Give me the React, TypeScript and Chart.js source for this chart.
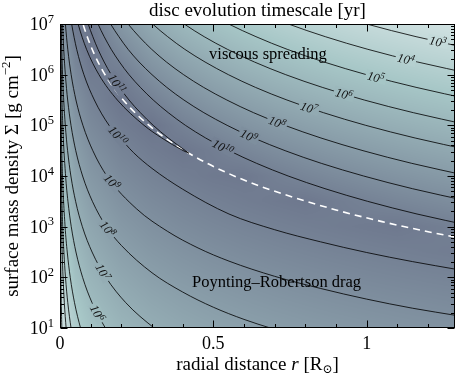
import React, { useEffect, useRef } from "react";
import { Chart, registerables } from "chart.js";

Chart.register(...registerables);

type Pt = [number, number]; // [r in R_sun, log10 Sigma]

// ---------- axes ----------
const rMin = 0;
const rMax = 1.288;
const sigmaMin = 1e1;
const sigmaMax = 1e7;
const xMajor = [0, 0.5, 1];
const xMajorLabels = ["0", "0.5", "1"];
const xMinor = [0.1, 0.2, 0.3, 0.4, 0.6, 0.7, 0.8, 0.9, 1.1, 1.2];
const yMajorExp = [1, 2, 3, 4, 5, 6, 7];
const yMinorMult = [2, 3, 4, 5, 6, 7, 8, 9];

// ---------- viscous-spreading contours (t = 10^n yr) ----------
const visc3: Pt[] = [[0.861, 7.25], [1.0, 7.0], [1.161, 6.75], [1.348, 6.5]];
const visc4: Pt[] = [[0.642, 7.25], [0.745, 7.0], [0.865, 6.75], [1.004, 6.5], [1.166, 6.25], [1.354, 6.0]];
const visc5: Pt[] = [[0.474, 7.25], [0.55, 7.0], [0.639, 6.75], [0.741, 6.5], [0.861, 6.25], [0.999, 6.0], [1.161, 5.75], [1.347, 5.5]];
const visc6: Pt[] = [[0.349, 7.25], [0.405, 7.0], [0.47, 6.75], [0.546, 6.5], [0.634, 6.25], [0.736, 6.0], [0.855, 5.75], [0.992, 5.5], [1.152, 5.25], [1.337, 5.0]];
const visc7: Pt[] = [[0.26, 7.25], [0.302, 7.0], [0.351, 6.75], [0.407, 6.5], [0.473, 6.25], [0.549, 6.0], [0.637, 5.75], [0.74, 5.5], [0.859, 5.25], [0.997, 5.0], [1.158, 4.75], [1.344, 4.5]];
const visc8: Pt[] = [[0.191, 7.25], [0.222, 7.0], [0.258, 6.75], [0.299, 6.5], [0.347, 6.25], [0.403, 6.0], [0.468, 5.75], [0.544, 5.5], [0.631, 5.25], [0.733, 5.0], [0.851, 4.75], [0.988, 4.5], [1.147, 4.25], [1.332, 4.0]];
const visc9: Pt[] = [[0.142, 7.25], [0.165, 7.0], [0.192, 6.75], [0.222, 6.5], [0.258, 6.25], [0.3, 6.0], [0.348, 5.75], [0.404, 5.5], [0.469, 5.25], [0.545, 5.0], [0.632, 4.75], [0.734, 4.5], [0.852, 4.25], [0.99, 4.0], [1.149, 3.75], [1.334, 3.5]];
const visc10: Pt[] = [[0.107, 7.25], [0.124, 7.0], [0.144, 6.75], [0.167, 6.5], [0.194, 6.25], [0.225, 6.0], [0.262, 5.75], [0.304, 5.5], [0.353, 5.25], [0.409, 5.0], [0.475, 4.75], [0.552, 4.5], [0.641, 4.25], [0.744, 4.0], [0.864, 3.75], [1.003, 3.5], [1.164, 3.25], [1.352, 3.0]];
const visc11: Pt[] = [[0.079, 7.25], [0.092, 7.0], [0.107, 6.75], [0.124, 6.5], [0.144, 6.25], [0.167, 6.0], [0.194, 5.75], [0.225, 5.5], [0.262, 5.25], [0.304, 5.0], [0.353, 4.75], [0.409, 4.5], [0.42, 4.45]];

// ---------- Poynting-Robertson drag contours ----------
const pr2: Pt[] = [[0.00037, 5.0], [0.00074, 4.0], [0.0015, 3.0], [0.003, 2.0], [0.0042, 1.5], [0.006, 1.0], [0.0069, 0.8]];
const pr3: Pt[] = [[0.0003, 7.0], [0.00061, 6.0], [0.00122, 5.0], [0.00246, 4.0], [0.00494, 3.0], [0.007, 2.5], [0.00995, 2.0], [0.0141, 1.5], [0.02, 1.0], [0.023, 0.8]];
const pr4: Pt[] = [[0.00055, 7.0], [0.0011, 6.0], [0.0022, 5.0], [0.00444, 4.0], [0.0089, 3.0], [0.0127, 2.5], [0.0179, 2.0], [0.0254, 1.5], [0.036, 1.0], [0.0414, 0.8]];
const pr5: Pt[] = [[0.00102, 7.0], [0.00205, 6.0], [0.0041, 5.0], [0.0083, 4.0], [0.0166, 3.0], [0.0236, 2.5], [0.0334, 2.0], [0.0473, 1.5], [0.067, 1.0], [0.077, 0.8]];
const pr6: Pt[] = [[0.00226, 7.0], [0.00453, 6.0], [0.0091, 5.0], [0.0183, 4.0], [0.0259, 3.5], [0.0367, 3.0], [0.052, 2.5], [0.0737, 2.0], [0.1044, 1.5], [0.148, 1.0], [0.17, 0.8]];
const pr7: Pt[] = [[0.0036, 7.2], [0.0041, 7.0], [0.0059, 6.5], [0.0084, 6.0], [0.0121, 5.5], [0.0173, 5.0], [0.0248, 4.5], [0.0355, 4.0], [0.0509, 3.5], [0.0729, 3.0], [0.1045, 2.5], [0.1497, 2.0], [0.2144, 1.5], [0.307, 1.0], [0.354, 0.8]];
const pr8: Pt[] = [[0.0074, 7.2], [0.0085, 7.0], [0.0122, 6.5], [0.0175, 6.0], [0.025, 5.5], [0.0359, 5.0], [0.0514, 4.5], [0.0737, 4.0], [0.1056, 3.5], [0.151, 3.0], [0.2, 2.63], [0.3, 2.09], [0.4, 1.71], [0.5, 1.41], [0.6, 1.17], [0.691, 0.99], [0.8, 0.8]];
const pr9: Pt[] = [[0.0155, 7.2], [0.0177, 7.0], [0.0254, 6.5], [0.0364, 6.0], [0.052, 5.5], [0.0747, 5.0], [0.107, 4.5], [0.153, 4.0], [0.25, 3.35], [0.35, 2.91], [0.45, 2.58], [0.551, 2.32], [0.7, 2.02], [0.85, 1.78], [1.0, 1.57], [1.15, 1.39], [1.3, 1.24]];
const pr10: Pt[] = [[0.033, 7.2], [0.038, 7.0], [0.0545, 6.5], [0.078, 6.0], [0.112, 5.5], [0.16, 5.0], [0.189, 4.8], [0.24, 4.46], [0.3, 4.15], [0.4, 3.74], [0.551, 3.25], [0.7, 2.94], [0.85, 2.7], [1.0, 2.49], [1.15, 2.31], [1.3, 2.15]];
const pr11: Pt[] = [[0.0487, 7.25], [0.059, 7.0], [0.0866, 6.5], [0.127, 6.0], [0.187, 5.5], [0.274, 5.0], [0.332, 4.75], [0.402, 4.5], [0.42, 4.45]];

// boundary where both timescales are equal (dashed)
const equalTimescale: Pt[] = [[0.065, 7.21], [0.075, 7.0], [0.09, 6.73], [0.11, 6.43], [0.14, 6.07], [0.18, 5.7], [0.23, 5.34], [0.3, 4.95], [0.38, 4.6], [0.48, 4.25], [0.6, 3.92], [0.75, 3.6], [0.9, 3.33], [1.05, 3.1], [1.2, 2.9], [1.3, 2.78]];

// contour labels: exponent and radius where the label sits
const viscLabelExp = [3, 4, 5, 6, 7, 8, 9, 10, 11];
const viscLabelR = [1.232, 1.128, 1.03, 0.926, 0.812, 0.708, 0.616, 0.531, 0.186];
const prLabelExp = [6, 7, 8, 9, 10];
const prLabelR = [0.122, 0.14, 0.156, 0.17, 0.189];

// ---------- background field: log10 t on a coarse grid ----------
const shadeR = [0, 0.05, 0.1, 0.2, 0.3, 0.4, 0.5, 0.6, 0.7, 0.8, 0.9, 1.0, 1.1, 1.2, 1.3];
const shadeL = [7, 6.5, 6, 5.5, 5, 4.5, 4, 3.5, 3, 2.5, 2, 1.5, 1];
const shadeLogT = [
  [8.3, 10.54, 10.73, 8.41, 7.06, 6.09, 5.35, 4.74, 4.22, 3.78, 3.38, 3.03, 2.71, 2.42, 2.15],
  [7.79, 10.02, 10.98, 9.41, 8.06, 7.09, 6.35, 5.74, 5.22, 4.78, 4.38, 4.03, 3.71, 3.42, 3.15],
  [7.27, 9.5, 10.47, 10.41, 9.06, 8.09, 7.35, 6.74, 6.22, 5.78, 5.38, 5.03, 4.71, 4.42, 4.15],
  [6.75, 8.99, 9.95, 10.91, 10.06, 9.09, 8.35, 7.74, 7.22, 6.78, 6.38, 6.03, 5.71, 5.42, 5.15],
  [6.24, 8.47, 9.44, 10.4, 10.96, 10.09, 9.35, 8.74, 8.22, 7.78, 7.38, 7.03, 6.71, 6.42, 6.15],
  [5.72, 7.96, 8.92, 9.88, 10.44, 10.84, 10.35, 9.74, 9.22, 8.78, 8.38, 8.03, 7.71, 7.42, 7.15],
  [5.21, 7.44, 8.4, 9.37, 9.93, 10.33, 10.64, 10.74, 10.22, 9.78, 9.38, 9.03, 8.71, 8.42, 8.15],
  [4.69, 6.93, 7.89, 8.85, 9.41, 9.81, 10.12, 10.37, 10.59, 10.77, 10.38, 10.03, 9.71, 9.42, 9.15],
  [4.18, 6.41, 7.37, 8.34, 8.9, 9.3, 9.61, 9.86, 10.07, 10.26, 10.42, 10.57, 10.7, 10.42, 10.15],
  [3.66, 5.9, 6.86, 7.82, 8.38, 8.78, 9.09, 9.34, 9.56, 9.74, 9.91, 10.05, 10.18, 10.31, 10.42],
  [3.15, 5.38, 6.34, 7.3, 7.87, 8.27, 8.58, 8.83, 9.04, 9.23, 9.39, 9.54, 9.67, 9.79, 9.9],
  [2.63, 4.86, 5.83, 6.79, 7.35, 7.75, 8.06, 8.31, 8.53, 8.71, 8.88, 9.02, 9.15, 9.27, 9.39],
  [2.12, 4.35, 5.31, 6.27, 6.84, 7.24, 7.55, 7.8, 8.01, 8.2, 8.36, 8.51, 8.64, 8.76, 8.87],
];
// bone-like colour map (log t -> rgb)
const cmapStops: [number, [number, number, number]][] = [
  [-0.74, [255, 255, 255]],
  [4.92, [167, 199, 199]],
  [13.41, [84, 84, 116]],
];

const FONT = "'Liberation Serif', 'DejaVu Serif', serif";

type Part = { t: string; size: number; italic?: boolean; dy?: number };

function fontOf(p: Part) {
  return `${p.italic ? "italic " : ""}${p.size}px ${FONT}`;
}
function partsWidth(ctx: CanvasRenderingContext2D, parts: Part[]) {
  let w = 0;
  for (const p of parts) {
    ctx.font = fontOf(p);
    w += ctx.measureText(p.t).width;
  }
  return w;
}
function drawParts(ctx: CanvasRenderingContext2D, parts: Part[], x: number, y: number, align: "left" | "center" | "right") {
  const w = partsWidth(ctx, parts);
  let cx = align === "center" ? x - w / 2 : align === "right" ? x - w : x;
  ctx.textAlign = "left";
  ctx.textBaseline = "alphabetic";
  for (const p of parts) {
    ctx.font = fontOf(p);
    ctx.fillText(p.t, cx, y + (p.dy || 0));
    cx += ctx.measureText(p.t).width;
  }
}

function sampleLogT(r: number, l: number): number {
  const nc = shadeR.length;
  let i = 0;
  if (r >= shadeR[nc - 1]) i = nc - 2;
  else if (r > shadeR[0]) { while (shadeR[i + 1] < r) i++; }
  const tx = Math.min(1, Math.max(0, (r - shadeR[i]) / (shadeR[i + 1] - shadeR[i])));
  const nr = shadeL.length;
  let j = 0;
  if (l <= shadeL[nr - 1]) j = nr - 2;
  else if (l < shadeL[0]) { while (shadeL[j + 1] > l) j++; }
  const ty = Math.min(1, Math.max(0, (shadeL[j] - l) / (shadeL[j] - shadeL[j + 1])));
  const a = shadeLogT[j][i], b = shadeLogT[j][i + 1];
  const c = shadeLogT[j + 1][i], d = shadeLogT[j + 1][i + 1];
  const top = a + (b - a) * tx;
  const bot = c + (d - c) * tx;
  return top + (bot - top) * ty;
}

function cmap(v: number): [number, number, number] {
  const s = cmapStops;
  if (v <= s[0][0]) return s[0][1];
  for (let k = 0; k < s.length - 1; k++) {
    if (v <= s[k + 1][0]) {
      const t = (v - s[k][0]) / (s[k + 1][0] - s[k][0]);
      const c0 = s[k][1], c1 = s[k + 1][1];
      return [c0[0] + (c1[0] - c0[0]) * t, c0[1] + (c1[1] - c0[1]) * t, c0[2] + (c1[2] - c0[2]) * t];
    }
  }
  return s[s.length - 1][1];
}

const shadePlugin = {
  id: "shade",
  beforeDatasetsDraw(chart: any) {
    const { ctx, chartArea: a, scales } = chart;
    const w = Math.round(a.right - a.left);
    const h = Math.round(a.bottom - a.top);
    const off = document.createElement("canvas");
    off.width = w;
    off.height = h;
    const octx = off.getContext("2d")!;
    const img = octx.createImageData(w, h);
    const rs: number[] = [];
    const ls: number[] = [];
    for (let i = 0; i < w; i++) rs.push(scales.x.getValueForPixel(a.left + i + 0.5));
    for (let j = 0; j < h; j++) ls.push(Math.log10(scales.y.getValueForPixel(a.top + j + 0.5)));
    let k = 0;
    for (let j = 0; j < h; j++) {
      for (let i = 0; i < w; i++) {
        const c = cmap(sampleLogT(rs[i], ls[j]));
        img.data[k++] = c[0];
        img.data[k++] = c[1];
        img.data[k++] = c[2];
        img.data[k++] = 255;
      }
    }
    octx.putImageData(img, 0, 0);
    ctx.drawImage(off, a.left, a.top);
  },
};

function drawContourLabel(chart: any, pts: Pt[], r: number, exp: number) {
  const { ctx, scales } = chart;
  const xs = scales.x, ys = scales.y;
  let k = 0;
  while (k < pts.length - 2 && pts[k + 1][0] < r) k++;
  const x0 = xs.getPixelForValue(pts[k][0]), y0 = ys.getPixelForValue(Math.pow(10, pts[k][1]));
  const x1 = xs.getPixelForValue(pts[k + 1][0]), y1 = ys.getPixelForValue(Math.pow(10, pts[k + 1][1]));
  const t = (r - pts[k][0]) / (pts[k + 1][0] - pts[k][0]);
  const px = xs.getPixelForValue(r);
  const py = y0 + (y1 - y0) * t;
  let ang = Math.atan2(y1 - y0, x1 - x0);
  if (ang > Math.PI / 2) ang -= Math.PI;
  if (ang < -Math.PI / 2) ang += Math.PI;
  const lg = Math.log10(ys.getValueForPixel(py));
  const bg = cmap(sampleLogT(r, lg));
  const parts: Part[] = [
    { t: "10", size: 12.5, italic: true },
    { t: String(exp), size: 9, italic: true, dy: -4.5 },
  ];
  const w = partsWidth(ctx, parts);
  ctx.save();
  ctx.translate(px, py);
  ctx.rotate(ang);
  ctx.fillStyle = `rgb(${bg[0]},${bg[1]},${bg[2]})`;
  ctx.fillRect(-w / 2 - 2, -5.5, w + 4, 11);
  ctx.fillStyle = "#111";
  drawParts(ctx, parts, 0, 4.5, "center");
  ctx.restore();
}

const viscLines = [visc3, visc4, visc5, visc6, visc7, visc8, visc9, visc10, visc11];
const prLines = [pr2, pr3, pr4, pr5, pr6, pr7, pr8, pr9, pr10, pr11];
const prLabelLines = [pr6, pr7, pr8, pr9, pr10];

const labelPlugin = {
  id: "contourLabels",
  afterDatasetsDraw(chart: any) {
    viscLabelExp.forEach((e, i) => drawContourLabel(chart, viscLines[i], viscLabelR[i], e));
    prLabelExp.forEach((e, i) => drawContourLabel(chart, prLabelLines[i], prLabelR[i], e));
  },
};

const framePlugin = {
  id: "frame",
  afterDraw(chart: any) {
    const { ctx, chartArea: a, scales } = chart;
    const xs = scales.x, ys = scales.y;
    const L = Math.round(a.left) + 0.5, R = Math.round(a.right) - 0.5;
    const T = Math.round(a.top) + 0.5, B = Math.round(a.bottom) - 0.5;
    ctx.save();
    ctx.strokeStyle = "#000";
    ctx.lineWidth = 1;
    ctx.strokeRect(L, T, R - L, B - T);
    ctx.beginPath();
    const xt = (v: number, len: number) => {
      const p = Math.round(xs.getPixelForValue(v)) + 0.5;
      ctx.moveTo(p, B); ctx.lineTo(p, B - len);
      ctx.moveTo(p, T); ctx.lineTo(p, T + len);
    };
    const yt = (v: number, len: number) => {
      const p = Math.round(ys.getPixelForValue(v)) + 0.5;
      ctx.moveTo(L, p); ctx.lineTo(L + len, p);
      ctx.moveTo(R, p); ctx.lineTo(R - len, p);
    };
    xMajor.forEach((v) => xt(v, 7));
    xMinor.forEach((v) => xt(v, 3.5));
    yMajorExp.forEach((e) => yt(Math.pow(10, e), 7));
    for (let e = yMajorExp[0]; e < yMajorExp[yMajorExp.length - 1]; e++) {
      yMinorMult.forEach((m) => yt(m * Math.pow(10, e), 3.5));
    }
    ctx.stroke();

    ctx.fillStyle = "#000";
    // x tick labels
    xMajor.forEach((v, i) => {
      drawParts(ctx, [{ t: xMajorLabels[i], size: 18 }], xs.getPixelForValue(v), B + 21, "center");
    });
    // y tick labels
    yMajorExp.forEach((e) => {
      const p = ys.getPixelForValue(Math.pow(10, e));
      drawParts(ctx, [{ t: "10", size: 18 }, { t: String(e), size: 12.5, dy: -7.5 }], a.left - 6, p + 6, "right");
    });
    const cx = (a.left + a.right) / 2;
    const cy = (a.top + a.bottom) / 2;
    // title
    drawParts(ctx, [{ t: "disc evolution timescale [yr]", size: 19 }], cx, 16, "center");
    // x label
    drawParts(
      ctx,
      [
        { t: "radial distance ", size: 19 },
        { t: "r", size: 19, italic: true },
        { t: " [R", size: 19 },
        { t: "\u2299", size: 12, dy: 3 },
        { t: "]", size: 19 },
      ],
      cx, 370, "center"
    );
    // y label
    ctx.save();
    ctx.translate(17.5, cy);
    ctx.rotate(-Math.PI / 2);
    drawParts(
      ctx,
      [
        { t: "surface mass density \u03A3 [g cm", size: 19 },
        { t: "\u22122", size: 13, dy: -7.5 },
        { t: "]", size: 19 },
      ],
      0, 0, "center"
    );
    ctx.restore();
    // region annotations
    drawParts(ctx, [{ t: "viscous spreading", size: 16.5 }], xs.getPixelForValue(0.678), ys.getPixelForValue(Math.pow(10, 6.3)), "center");
    drawParts(ctx, [{ t: "Poynting\u2013Robertson drag", size: 16.5 }], xs.getPixelForValue(0.706), ys.getPixelForValue(Math.pow(10, 1.8)), "center");
    ctx.restore();
  },
};

function toData(pts: Pt[]) {
  return pts.map(([r, l]) => ({ x: r, y: Math.pow(10, l) }));
}

export default function App() {
  const ref = useRef<HTMLCanvasElement>(null);
  useEffect(() => {
    document.body.style.margin = "0";
    if (!ref.current) return;
    const lineStyle = {
      borderColor: "rgba(0,0,0,0.9)",
      borderWidth: 0.9,
      pointRadius: 0,
      fill: false,
      cubicInterpolationMode: "monotone" as const,
    };
    const datasets: any[] = [
      ...viscLines.map((p) => ({ ...lineStyle, data: toData(p) })),
      ...prLines.map((p) => ({ ...lineStyle, data: toData(p) })),
      {
        data: toData(equalTimescale),
        borderColor: "#ffffff",
        borderWidth: 1.6,
        borderDash: [7, 5],
        pointRadius: 0,
        fill: false,
        cubicInterpolationMode: "monotone",
      },
    ];
    const chart = new Chart(ref.current, {
      type: "line",
      data: { datasets },
      options: {
        animation: false,
        responsive: false,
        devicePixelRatio: 1,
        events: [],
        layout: { padding: { left: 60, top: 24, right: 4, bottom: 48 } },
        plugins: { legend: { display: false }, tooltip: { enabled: false }, title: { display: false } },
        scales: {
          x: { type: "linear", min: rMin, max: rMax, display: false },
          y: { type: "logarithmic", min: sigmaMin, max: sigmaMax, display: false },
        },
      },
      plugins: [shadePlugin, labelPlugin, framePlugin],
    } as any);
    return () => chart.destroy();
  }, []);
  return (
    <div style={{ width: 459, height: 376 }}>
      <canvas ref={ref} width={459} height={376} style={{ display: "block" }} />
    </div>
  );
}
